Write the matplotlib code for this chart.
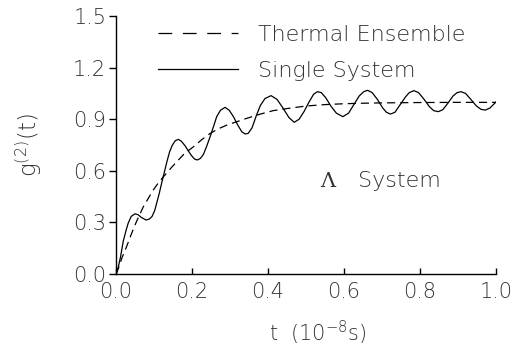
import matplotlib
matplotlib.use("Agg")
import matplotlib.pyplot as plt
from matplotlib.lines import Line2D
from matplotlib.ticker import FormatStrFormatter

# values
t_single = [0.000, 0.006, 0.012, 0.019, 0.026, 0.032, 0.040, 0.050, 0.058, 0.066,
            0.079, 0.088, 0.095, 0.102, 0.108, 0.114, 0.120, 0.127, 0.134, 0.141,
            0.148, 0.156, 0.164, 0.172, 0.182, 0.192, 0.200, 0.207, 0.214, 0.222,
            0.230, 0.239, 0.248, 0.257, 0.265, 0.275, 0.287, 0.298, 0.309, 0.320,
            0.331, 0.340, 0.348, 0.358, 0.370, 0.380, 0.392, 0.408, 0.424, 0.440,
            0.455, 0.469, 0.482, 0.495, 0.508, 0.520, 0.530, 0.540, 0.552, 0.566,
            0.580, 0.597, 0.612, 0.626, 0.640, 0.652, 0.662, 0.674, 0.688, 0.702,
            0.712, 0.722, 0.734, 0.748, 0.762, 0.772, 0.784, 0.796, 0.810, 0.824,
            0.836, 0.848, 0.860, 0.874, 0.887, 0.898, 0.908, 0.920, 0.934, 0.948,
            0.960, 0.972, 0.984, 1.000]
g_single = [0.000, 0.040, 0.100, 0.190, 0.250, 0.295, 0.335, 0.350, 0.345, 0.330,
            0.314, 0.320, 0.335, 0.370, 0.420, 0.470, 0.527, 0.590, 0.653, 0.710,
            0.748, 0.775, 0.783, 0.772, 0.745, 0.710, 0.685, 0.668, 0.663, 0.672,
            0.695, 0.745, 0.800, 0.860, 0.915, 0.952, 0.969, 0.952, 0.915, 0.868,
            0.827, 0.814, 0.818, 0.850, 0.925, 0.980, 1.020, 1.037, 1.015, 0.963,
            0.910, 0.882, 0.900, 0.945, 1.000, 1.045, 1.060, 1.055, 1.025, 0.975,
            0.935, 0.915, 0.935, 0.985, 1.035, 1.060, 1.068, 1.055, 1.015, 0.965,
            0.940, 0.930, 0.940, 0.985, 1.030, 1.055, 1.066, 1.055, 1.018, 0.975,
            0.950, 0.944, 0.955, 0.995, 1.035, 1.055, 1.060, 1.050, 1.015, 0.978,
            0.958, 0.953, 0.965, 1.000]

t_thermal = [0.000, 0.006, 0.015, 0.028, 0.040, 0.050, 0.060, 0.072, 0.085, 0.098,
             0.113, 0.129, 0.145, 0.160, 0.180, 0.204, 0.225, 0.248, 0.270, 0.292,
             0.320, 0.344, 0.380, 0.414, 0.460, 0.502, 0.550, 0.600, 0.650, 0.700,
             0.800, 0.900, 1.000]
g_thermal = [0.000, 0.030, 0.090, 0.160, 0.230, 0.285, 0.335, 0.391, 0.440, 0.488,
             0.535, 0.576, 0.617, 0.653, 0.700, 0.740, 0.780, 0.818, 0.845, 0.866,
             0.887, 0.905, 0.930, 0.950, 0.965, 0.977, 0.985, 0.990, 0.993, 0.995,
             0.997, 0.998, 0.998]

x_ticks = [0.0, 0.2, 0.4, 0.6, 0.8, 1.0]
y_ticks = [0.0, 0.3, 0.6, 0.9, 1.2, 1.5]

text_color = "#333333"
plt.rcParams["font.family"] = ["DejaVu Sans"]
plt.rcParams["font.weight"] = "light"
plt.rcParams["axes.labelweight"] = "light"
# keep mathtext parts (superscripts) in the same light face
plt.rcParams["mathtext.fontset"] = "custom"
plt.rcParams["mathtext.rm"] = "DejaVu Sans:light"
plt.rcParams["mathtext.it"] = "DejaVu Sans:light"
plt.rcParams["mathtext.bf"] = "DejaVu Sans:bold"
plt.rcParams["mathtext.default"] = "rm"

fig = plt.figure(figsize=(5.16, 3.56), dpi=100)
ax = fig.add_axes([0.2248, 0.2303, 0.7364, 0.7247])

ax.plot(t_thermal, g_thermal, color="black", lw=0.9, dashes=(6.5, 4))
ax.plot(t_single, g_single, color="black", lw=0.9)

ax.set_xlim(0, 1.0)
ax.set_ylim(0, 1.5)
ax.set_xticks(x_ticks)
ax.set_yticks(y_ticks)
ax.xaxis.set_major_formatter(FormatStrFormatter("%.1f"))
ax.yaxis.set_major_formatter(FormatStrFormatter("%.1f"))

for side in ("top", "right"):
    ax.spines[side].set_visible(False)
for side in ("left", "bottom"):
    ax.spines[side].set_linewidth(1.0)

ax.tick_params(axis="x", direction="in", length=4, width=1.0, pad=6,
               labelsize=15, labelcolor=text_color)
ax.tick_params(axis="y", direction="out", length=5, width=1.0, pad=2,
               labelsize=15, labelcolor=text_color)

ax.set_xlabel("t  (10$^{-8}$s)", fontsize=15, color=text_color)
ax.xaxis.set_label_coords(0.53, -0.175)
ax.set_ylabel("g$^{(2)}$(t)", fontsize=16.5, color=text_color)
ax.yaxis.set_label_coords(-0.19, 0.5)

handles = [
    Line2D([], [], color="black", lw=0.9, dashes=(11, 8.5)),
    Line2D([], [], color="black", lw=0.9),
]
ax.legend(handles, ["Thermal Ensemble", "Single System"], loc="upper left",
          bbox_to_anchor=(0.082, 1.009), frameon=False, fontsize=16,
          handlelength=3.6, handletextpad=0.9, labelspacing=0.72,
          borderpad=0, labelcolor=text_color)

ax.text(0.538, 0.36, "\u039b", transform=ax.transAxes, fontsize=15,
        family="DejaVu Serif", color=text_color, va="center", ha="left")
ax.text(0.636, 0.36, "System", transform=ax.transAxes, fontsize=16,
        color=text_color, va="center", ha="left")

fig.savefig("out.png", dpi=100)
